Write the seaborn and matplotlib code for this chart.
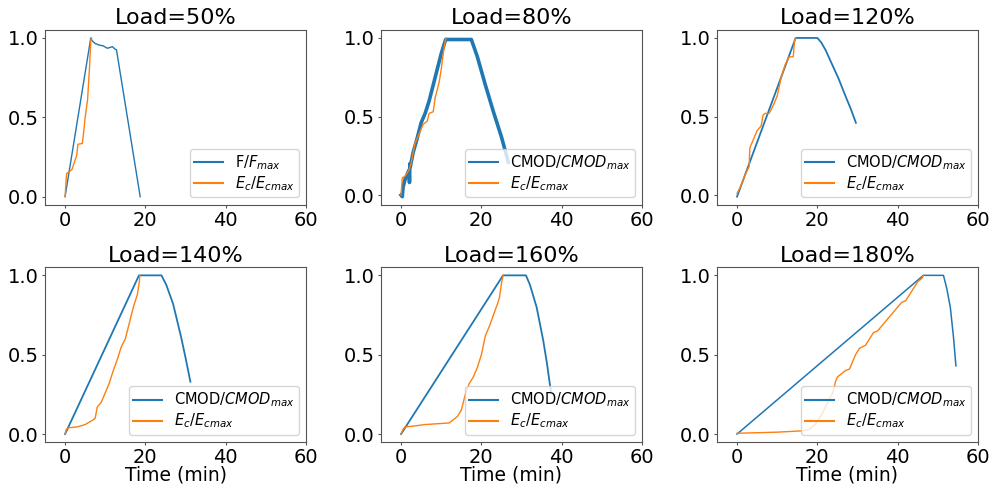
import numpy as np
import pandas as pd
import matplotlib
matplotlib.use("Agg")
import matplotlib.pyplot as plt
import seaborn as sns

# panel titles and legend labels
titles = ["Load=50%", "Load=80%", "Load=120%", "Load=140%", "Load=160%", "Load=180%"]
blue_labels = ["F/$F_{max}$"] + ["CMOD/$CMOD_{max}$"] * 5
orange_label = "$E_c$/$E_{cmax}$"

# blue curves (F or CMOD normalised), time in min
t_b50 = [0, 6.4, 6.8, 7.5, 8.5, 9.5, 10.5, 11.2, 11.8, 12.4, 12.8, 18.7]
y_b50 = [0, 1.0, 0.98, 0.965, 0.955, 0.95, 0.935, 0.94, 0.945, 0.93, 0.925, 0.0]
t_b80 = [0, 0.3, 0.5, 1.0, 2.0, 2.1, 2.2, 2.3, 3.0, 4.0, 5.0, 6.0, 7.0, 8.0, 9.0, 10.0, 11.1,
         12.0, 14.0, 16.0, 17.5, 19.0, 21.0, 23.0, 25.0, 26.7]
y_b80 = [0, -0.01, 0.05, 0.1, 0.16, 0.08, 0.2, 0.18, 0.27, 0.36, 0.46, 0.52, 0.6, 0.7, 0.8, 0.9, 0.99,
         0.99, 0.99, 0.99, 0.99, 0.88, 0.7, 0.53, 0.37, 0.21]
t_b120 = [0, 14.6, 20.0, 21.0, 22.1, 23.7, 25.3, 27.0, 28.3, 29.6]
y_b120 = [-0.01, 1.0, 1.0, 0.97, 0.92, 0.83, 0.74, 0.63, 0.55, 0.46]
t_b140 = [0, 18.4, 24.0, 25.2, 26.9, 28.9, 30.0, 31.2]
y_b140 = [0, 1.0, 1.0, 0.94, 0.82, 0.61, 0.48, 0.33]
t_b160 = [0, 25.4, 31.1, 32.1, 33.75, 35.4, 36.3, 37.3]
y_b160 = [0, 1.0, 1.0, 0.94, 0.8, 0.59, 0.45, 0.27]
t_b180 = [0, 46.4, 51.4, 52.2, 53.1, 53.9, 54.5]
y_b180 = [0, 1.0, 1.0, 0.92, 0.8, 0.61, 0.43]

# orange curves (Ec / Ecmax)
t_o50 = [0, 0.3, 0.4, 1.7, 2.9, 3.2, 4.3, 4.6, 5.0, 5.6, 6.1, 6.4, 6.6]
y_o50 = [0, 0.12, 0.146, 0.17, 0.26, 0.33, 0.335, 0.4, 0.5, 0.61, 0.82, 0.985, 1.0]
t_o80 = [0, 0.3, 1.0, 2.0, 2.5, 3.0, 3.5, 4.5, 5.5, 6.5, 7.0, 8.0, 8.5, 9.5, 10.0, 10.5, 11.0, 11.2]
y_o80 = [0, 0.11, 0.12, 0.16, 0.2, 0.27, 0.33, 0.39, 0.45, 0.47, 0.52, 0.53, 0.62, 0.72, 0.8, 0.9, 0.98, 1.0]
t_o120 = [0, 1.0, 2.0, 3.0, 3.2, 4.0, 5.0, 6.0, 6.5, 7.0, 8.0, 9.0, 10.0, 11.0, 12.0, 13.0, 14.0, 14.3, 14.6]
y_o120 = [0.01, 0.06, 0.13, 0.18, 0.3, 0.35, 0.41, 0.44, 0.51, 0.52, 0.52, 0.57, 0.63, 0.75, 0.83, 0.88, 0.88, 0.98, 1.0]
t_o140 = [0, 0.3, 1.0, 3.0, 5.0, 7.0, 7.5, 8.0, 9.0, 10.0, 11.0, 12.0, 13.0, 14.0, 15.0, 16.0, 17.0, 18.0, 18.5, 18.6]
y_o140 = [0, 0.03, 0.04, 0.045, 0.06, 0.09, 0.1, 0.17, 0.2, 0.26, 0.32, 0.4, 0.47, 0.55, 0.6, 0.7, 0.8, 0.88, 0.96, 1.0]
t_o160 = [0, 0.5, 1.0, 3.0, 6.0, 9.0, 12.0, 13.0, 14.0, 15.0, 16.0, 17.0, 18.0, 19.0, 20.0, 21.0,
          22.0, 23.0, 24.0, 24.5, 25.0, 25.4]
y_o160 = [0, 0.03, 0.045, 0.05, 0.06, 0.065, 0.07, 0.09, 0.11, 0.15, 0.25, 0.32, 0.36, 0.42, 0.5, 0.62,
          0.68, 0.75, 0.82, 0.86, 0.95, 1.0]
t_o180 = [0, 10, 16, 18, 19, 20, 21, 22, 23, 24, 24.5, 25, 26, 27, 28, 28.5, 29.5, 30.5, 32, 33, 34,
          35, 36, 37, 38, 39, 40, 41, 42, 43, 44, 45, 46, 46.4]
y_o180 = [0.005, 0.012, 0.02, 0.03, 0.05, 0.08, 0.12, 0.17, 0.22, 0.27, 0.33, 0.36, 0.38, 0.4, 0.41,
          0.44, 0.5, 0.54, 0.56, 0.6, 0.64, 0.65, 0.68, 0.71, 0.74, 0.77, 0.8, 0.83, 0.84, 0.88,
          0.92, 0.96, 0.98, 1.0]

blue = [(t_b50, y_b50), (t_b80, y_b80), (t_b120, y_b120), (t_b140, y_b140), (t_b160, y_b160), (t_b180, y_b180)]
orange = [(t_o50, y_o50), (t_o80, y_o80), (t_o120, y_o120), (t_o140, y_o140), (t_o160, y_o160), (t_o180, y_o180)]
# the 80% CMOD signal is noisy, so it shows up as a thicker trace
blue_lw = [1, 2.6, 1.3, 1.3, 1.3, 1.1]

fig, axes = plt.subplots(2, 3, figsize=(9.92, 4.88), dpi=100)
fig.subplots_adjust(left=45/992, right=978/992, top=1-30/488, bottom=1-442/488,
                    wspace=0.287, hspace=0.36)

for i, ax in enumerate(axes.flat):
    tb, yb = blue[i]
    to, yo = orange[i]
    sns.lineplot(x=tb, y=yb, ax=ax, color="tab:blue", lw=blue_lw[i], label=blue_labels[i],
                 estimator=None, sort=False)
    sns.lineplot(x=to, y=yo, ax=ax, color="tab:orange", lw=1, label=orange_label,
                 estimator=None, sort=False)
    ax.set_title(titles[i], fontsize=16, pad=4)
    ax.set_xlim(-5, 60)
    ax.set_xticks([0, 20, 40, 60])
    ax.set_yticks([0.0, 0.5, 1.0])
    ax.tick_params(labelsize=14, length=2.5, pad=2, color="#555555")
    for sp in ax.spines.values():
        sp.set_color("#555555")
    leg = ax.legend(loc="lower right", fontsize=10.5, labelspacing=0.15, borderpad=0.3)
    for h in leg.get_lines():
        h.set_linewidth(1.5)
    if i >= 3:
        ax.set_xlabel("Time (min)", fontsize=13.5)
        ax.xaxis.set_label_coords(0.5, -0.135)

fig.savefig("out.png", dpi=100)
